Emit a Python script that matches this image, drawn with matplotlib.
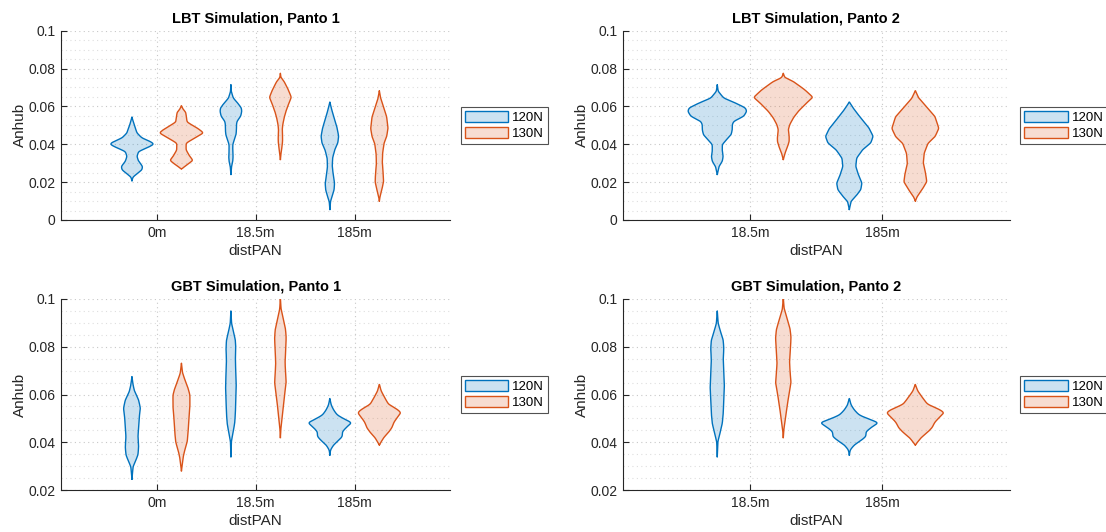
import numpy as np
import matplotlib
matplotlib.use('Agg')
import matplotlib.pyplot as plt
from matplotlib.patches import Patch
from matplotlib.colors import to_rgb
from matplotlib.ticker import MultipleLocator, FuncFormatter

plt.rcParams['font.family'] = ['Liberation Sans', 'DejaVu Sans']

cats_p1 = ['0m', '18.5m', '185m']
cats_p2 = ['18.5m', '185m']
forces = ['120N', '130N']
colors = ['#0072BD', '#D95319']

# violin outlines: y levels (top -> bottom) and relative half widths
# LBT
lbt_0m_120_y = [0.0544, 0.0512, 0.0486, 0.046, 0.0433, 0.0415, 0.0401, 0.0385, 0.0362, 0.0336, 0.031, 0.0283, 0.0265, 0.0244, 0.0227, 0.0207]
lbt_0m_120_w = [0, 0.15, 0.31, 0.46, 0.92, 1.68, 2.05, 1.53, 0.61, 0.46, 0.61, 0.98, 0.92, 0.46, 0.09, 0]
lbt_0m_130_y = [0.0604, 0.0585, 0.0569, 0.0517, 0.0483, 0.046, 0.0433, 0.0406, 0.037, 0.0336, 0.0315, 0.0292, 0.027]
lbt_0m_130_w = [0, 0.15, 0.4, 0.52, 1.53, 2.05, 1.22, 0.43, 0.43, 0.77, 1.07, 0.55, 0]
lbt_18_120_y = [0.0715, 0.068, 0.0644, 0.0618, 0.0592, 0.0574, 0.0548, 0.0521, 0.0504, 0.0477, 0.045, 0.0424, 0.0398, 0.0363, 0.0336, 0.031, 0.0283, 0.024]
lbt_18_120_w = [0, 0.03, 0.22, 0.62, 0.96, 1.0, 0.9, 0.56, 0.51, 0.51, 0.47, 0.31, 0.17, 0.17, 0.2, 0.17, 0.06, 0]
lbt_18_130_y = [0.0775, 0.0752, 0.0732, 0.0688, 0.0648, 0.0618, 0.0574, 0.0539, 0.0504, 0.0477, 0.0442, 0.0415, 0.038, 0.0354, 0.0319]
lbt_18_130_w = [0, 0.05, 0.34, 0.73, 1.01, 0.79, 0.51, 0.34, 0.22, 0.17, 0.2, 0.2, 0.13, 0.06, 0]
lbt_185_120_y = [0.0623, 0.0583, 0.0539, 0.0486, 0.0442, 0.0407, 0.0371, 0.0327, 0.0283, 0.0239, 0.0195, 0.016, 0.0125, 0.0099, 0.0055]
lbt_185_120_w = [0, 0.17, 0.39, 0.67, 0.81, 0.73, 0.45, 0.25, 0.22, 0.31, 0.43, 0.39, 0.22, 0.06, 0]
lbt_185_130_y = [0.0683, 0.0643, 0.0599, 0.0546, 0.0484, 0.044, 0.0405, 0.0352, 0.0299, 0.0246, 0.0202, 0.0158, 0.0123, 0.010]
lbt_185_130_w = [0, 0.12, 0.37, 0.67, 0.8, 0.67, 0.43, 0.3, 0.27, 0.35, 0.39, 0.22, 0.06, 0]
# GBT
gbt_0m_120_y = [0.0675, 0.064, 0.0612, 0.0577, 0.0542, 0.0507, 0.0465, 0.0423, 0.0381, 0.0347, 0.0319, 0.0298, 0.0245]
gbt_0m_120_w = [0, 0.05, 0.12, 0.3, 0.38, 0.33, 0.3, 0.27, 0.3, 0.27, 0.15, 0.05, 0]
gbt_0m_130_y = [0.0731, 0.069, 0.0655, 0.0626, 0.0598, 0.0549, 0.0493, 0.0444, 0.0402, 0.0367, 0.0339, 0.028]
gbt_0m_130_w = [0, 0.05, 0.18, 0.3, 0.38, 0.38, 0.33, 0.3, 0.26, 0.15, 0.08, 0]
gbt_18_120_y = [0.0951, 0.0898, 0.0863, 0.0828, 0.0793, 0.0745, 0.0689, 0.0633, 0.0577, 0.0521, 0.048, 0.0437, 0.0403, 0.034]
gbt_18_120_w = [0, 0.03, 0.11, 0.2, 0.22, 0.2, 0.22, 0.24, 0.22, 0.2, 0.17, 0.09, 0.02, 0]
gbt_18_130_y = [0.1005, 0.0958, 0.0916, 0.0874, 0.0839, 0.079, 0.0734, 0.0692, 0.065, 0.0608, 0.0552, 0.0497, 0.0455, 0.042]
gbt_18_130_w = [0, 0.03, 0.13, 0.23, 0.26, 0.24, 0.21, 0.23, 0.26, 0.2, 0.13, 0.07, 0.02, 0]
gbt_185_120_y = [0.0584, 0.0556, 0.0535, 0.0514, 0.0496, 0.0482, 0.0466, 0.0444, 0.0424, 0.0407, 0.0389, 0.0368, 0.0347]
gbt_185_120_w = [0, 0.06, 0.17, 0.33, 0.67, 1.0, 0.78, 0.56, 0.56, 0.39, 0.17, 0.03, 0]
gbt_185_130_y = [0.0643, 0.0615, 0.0587, 0.0559, 0.0538, 0.0524, 0.0503, 0.0483, 0.0462, 0.0441, 0.042, 0.0389]
gbt_185_130_w = [0, 0.08, 0.24, 0.41, 0.8, 0.98, 0.8, 0.65, 0.57, 0.41, 0.2, 0]

lbt = {'0m': [(lbt_0m_120_y, lbt_0m_120_w), (lbt_0m_130_y, lbt_0m_130_w)],
       '18.5m': [(lbt_18_120_y, lbt_18_120_w), (lbt_18_130_y, lbt_18_130_w)],
       '185m': [(lbt_185_120_y, lbt_185_120_w), (lbt_185_130_y, lbt_185_130_w)]}
gbt = {'0m': [(gbt_0m_120_y, gbt_0m_120_w), (gbt_0m_130_y, gbt_0m_130_w)],
       '18.5m': [(gbt_18_120_y, gbt_18_120_w), (gbt_18_130_y, gbt_18_130_w)],
       '185m': [(gbt_185_120_y, gbt_185_120_w), (gbt_185_130_y, gbt_185_130_w)]}


def outline(y_pts, w_pts, sigma=0.0005):
    y_pts = np.asarray(y_pts)[::-1]
    w_pts = np.asarray(w_pts)[::-1]
    step = 0.0001
    pad = 4 * sigma
    yy = np.arange(y_pts[0] - pad, y_pts[-1] + pad + step, step)
    ww = np.interp(yy, y_pts, w_pts, left=0, right=0)
    k = np.arange(-pad, pad + step, step)
    kern = np.exp(-0.5 * (k / sigma) ** 2)
    kern /= kern.sum()
    ws = np.convolve(ww, kern, mode='same')
    keep = (yy >= y_pts[0]) & (yy <= y_pts[-1])
    yy, ws = yy[keep], ws[keep]
    ws[0] = 0
    ws[-1] = 0
    return yy, ws


def draw_panel(ax, data, cats, title, ylim, yticks):
    max_w = max(max(w) for c in cats for _, w in data[c])
    scale = 0.225 / max_w
    for i, c in enumerate(cats):
        xc = i + 1
        for j, (yv, wv) in enumerate(data[c]):
            off = -0.25 if j == 0 else 0.25
            yy, ws = outline(yv, wv)
            ws = ws * scale
            xs = np.concatenate([xc + off + ws, (xc + off - ws)[::-1]])
            ys = np.concatenate([yy, yy[::-1]])
            ax.fill(xs, ys, facecolor=colors[j], alpha=0.2, edgecolor='none', zorder=2)
            ax.plot(np.append(xs, xs[0]), np.append(ys, ys[0]), color=colors[j], lw=1.0, zorder=3)

    ax.set_xlim(0.036, len(cats) + 0.964)
    ax.set_ylim(*ylim)
    ax.set_xticks(np.arange(1, len(cats) + 1))
    ax.set_xticklabels(cats)
    ax.set_yticks(yticks)
    ax.yaxis.set_major_formatter(FuncFormatter(lambda v, p: '%g' % round(v, 4)))
    ax.yaxis.set_minor_locator(MultipleLocator(0.005))
    ax.grid(True, which='major', linestyle=(0, (1, 3)), color='#c8c8c8', lw=0.8, zorder=0)
    ax.grid(True, which='minor', axis='y', linestyle=(0, (1, 3)), color='#dedede', lw=0.8, zorder=0)
    ax.set_axisbelow(True)
    for s in ['top', 'right']:
        ax.spines[s].set_visible(False)
    for s in ['left', 'bottom']:
        ax.spines[s].set_color('#262626')
        ax.spines[s].set_linewidth(0.8)
    ax.tick_params(which='major', direction='in', length=4, colors='#262626', labelsize=10, pad=4)
    ax.tick_params(which='minor', length=0)
    ax.set_title(title, fontsize=10.5, fontweight='bold', color='black', pad=6)
    ax.set_xlabel('distPAN', fontsize=11, color='#262626', labelpad=3)
    ax.set_ylabel('Anhub', fontsize=11, color='#262626', labelpad=1)

    handles = [Patch(facecolor=(*to_rgb(colors[k]), 0.2), edgecolor=colors[k], lw=1) for k in range(2)]
    leg = ax.legend(handles, forces, loc='center left', bbox_to_anchor=(1.028, 0.5), borderaxespad=0,
                    fontsize=9.5, frameon=True, fancybox=False, handlelength=3.3, handleheight=0.9,
                    handletextpad=0.3, borderpad=0.3, labelspacing=0.25)
    leg.get_frame().set_edgecolor('#262626')
    leg.get_frame().set_linewidth(0.8)


fig = plt.figure(figsize=(11.06, 5.32), dpi=100)
W, H = 1106, 532
ax1 = fig.add_axes([61.3 / W, 1 - 220 / H, 388.7 / W, 189.3 / H])
ax2 = fig.add_axes([623 / W, 1 - 220 / H, 386.6 / W, 189.3 / H])
ax3 = fig.add_axes([61.3 / W, 1 - 490 / H, 388.7 / W, 191 / H])
ax4 = fig.add_axes([623 / W, 1 - 490 / H, 386.6 / W, 191 / H])

draw_panel(ax1, lbt, cats_p1, 'LBT Simulation, Panto 1', (0, 0.1), [0, 0.02, 0.04, 0.06, 0.08, 0.1])
draw_panel(ax2, lbt, cats_p2, 'LBT Simulation, Panto 2', (0, 0.1), [0, 0.02, 0.04, 0.06, 0.08, 0.1])
draw_panel(ax3, gbt, cats_p1, 'GBT Simulation, Panto 1', (0.02, 0.1), [0.02, 0.04, 0.06, 0.08, 0.1])
draw_panel(ax4, gbt, cats_p2, 'GBT Simulation, Panto 2', (0.02, 0.1), [0.02, 0.04, 0.06, 0.08, 0.1])

fig.savefig('out.png', dpi=100)
